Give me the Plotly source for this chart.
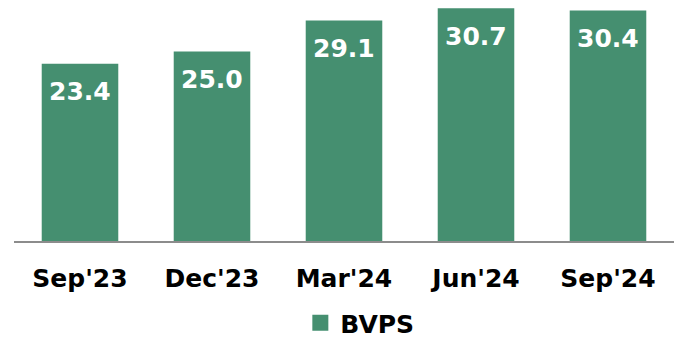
import plotly.graph_objects as go

# Book value per share by quarter
quarters = ["Sep'23", "Dec'23", "Mar'24", "Jun'24", "Sep'24"]
bvps = [23.4, 25.0, 29.1, 30.7, 30.4]
series_name = "BVPS"

bar_color = "#458F70"
font_family = "DejaVu Sans"

fig = go.Figure()
fig.add_trace(go.Bar(
    x=quarters,
    y=bvps,
    name=series_name,
    marker=dict(color=bar_color, line=dict(width=0)),
    showlegend=False,
))
# legend entry with a larger square swatch
fig.add_trace(go.Scatter(
    x=[None], y=[None], mode="markers", name=series_name,
    marker=dict(symbol="square", size=17, color=bar_color),
    showlegend=True,
))

# value labels sit inside the top of each bar
for q, v in zip(quarters, bvps):
    fig.add_annotation(
        x=q, y=v, text=f"<b>{v:.1f}</b>", showarrow=False,
        yanchor="middle", yshift=-28,
        font=dict(family=font_family, size=25, color="white"),
    )

fig.update_layout(
    width=684, height=338,
    margin=dict(l=14, r=10, t=0, b=97, autoexpand=False),
    paper_bgcolor="white", plot_bgcolor="white",
    bargap=0.42,
    showlegend=True,
    legend=dict(
        orientation="h", x=0.524, xanchor="center",
        yref="paper", y=-0.245, yanchor="top",
        font=dict(family=font_family, size=25, color="black", weight="bold"),
        itemwidth=30, bgcolor="rgba(0,0,0,0)",
    ),
    xaxis=dict(
        showline=True, linecolor="#8c8c8c", linewidth=2,
        ticks="", ticklabelstandoff=14, automargin=False,
        tickfont=dict(family=font_family, size=25, color="black", weight="bold"),
    ),
    yaxis=dict(range=[0, 31.8], visible=False, showgrid=False, zeroline=False,
               automargin=False),
)

fig.write_html("out.html")
